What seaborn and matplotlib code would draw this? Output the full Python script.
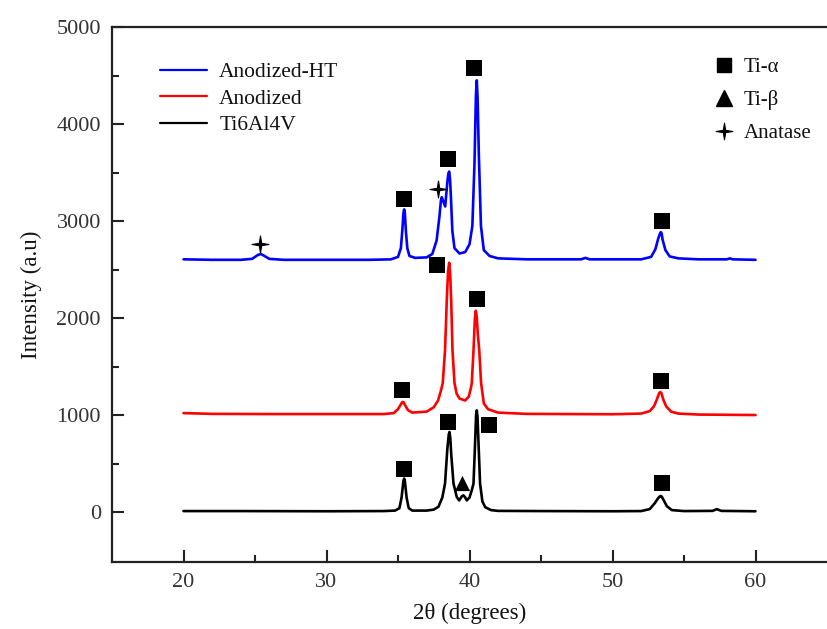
import matplotlib
matplotlib.use("Agg")
import matplotlib.pyplot as plt
from matplotlib.lines import Line2D
from matplotlib.path import Path
import seaborn as sns
import pandas as pd

# --- XRD traces: 2theta (degrees) and intensity (a.u.) ---
ht_2theta = [20.0, 22.0, 24.0, 24.8, 25.2, 25.4, 25.6, 26.0, 27.0, 30.0, 33.0, 34.5,
             35.0, 35.2, 35.3, 35.38, 35.43, 35.48, 35.55, 35.65, 35.8, 36.2, 37.0,
             37.4, 37.7, 37.9, 38.0, 38.06, 38.12, 38.3, 38.45, 38.52, 38.58, 38.64,
             38.7, 38.8, 38.95, 39.3, 39.7, 40.0, 40.2, 40.35, 40.45, 40.51, 40.57,
             40.65, 40.8, 41.0, 41.4, 42.0, 44.0, 47.8, 48.1, 48.4, 52.0, 52.7, 53.0,
             53.2, 53.32, 53.38, 53.44, 53.5, 53.7, 54.0, 54.6, 56.0, 58.0, 58.2,
             58.4, 60.0]
ht_counts = [2605, 2600, 2600, 2610, 2650, 2660, 2645, 2610, 2600, 2600, 2600, 2605,
             2630, 2720, 2900, 3080, 3120, 3080, 2900, 2720, 2640, 2620, 2625,
             2660, 2800, 3050, 3210, 3245, 3220, 3150, 3400, 3490, 3510, 3430,
             3250, 2900, 2720, 2665, 2680, 2760, 2950, 3600, 4300, 4450, 4250,
             3700, 2950, 2700, 2640, 2615, 2605, 2605, 2620, 2605, 2605, 2630, 2710,
             2820, 2870, 2885, 2870, 2810, 2700, 2635, 2615, 2605, 2605, 2615,
             2605, 2600]

anod_2theta = [20.0, 22.0, 26.0, 30.0, 34.0, 34.7, 35.0, 35.2, 35.28, 35.34, 35.4,
               35.5, 35.7, 36.0, 37.0, 37.5, 37.8, 38.0, 38.13, 38.29, 38.41, 38.5,
               38.58, 38.65, 38.72, 38.81, 38.95, 39.1, 39.3, 39.7, 39.95, 40.1,
               40.16, 40.28, 40.33, 40.38, 40.44, 40.5, 40.58, 40.68, 40.81, 41.0,
               41.3, 42.0, 44.0, 50.0, 52.0, 52.6, 52.9, 53.1, 53.26, 53.34, 53.42,
               53.55, 53.75, 54.1, 54.6, 56.0, 60.0]
anod_counts = [1020, 1012, 1010, 1010, 1010, 1020, 1060, 1110, 1130, 1135, 1130,
               1100, 1050, 1025, 1035, 1080, 1150, 1250, 1330, 1670, 2180, 2480,
               2570, 2450, 2180, 1670, 1330, 1220, 1170, 1150, 1190, 1280,
               1330, 1670, 1840, 2000, 2075, 2020, 1840, 1670, 1330, 1120,
               1060, 1025, 1012, 1008, 1015, 1040, 1090, 1160, 1225, 1237, 1225,
               1160, 1090, 1035, 1015, 1005, 1000]

alloy_2theta = [20.0, 24.0, 30.0, 34.0, 34.8, 35.1, 35.25, 35.38, 35.43, 35.48, 35.6,
                35.75, 36.0, 37.0, 37.5, 37.83, 38.1, 38.29, 38.45, 38.55, 38.6,
                38.66, 38.72, 38.88, 39.11, 39.28, 39.45, 39.58, 39.7, 39.81, 40.0,
                40.15, 40.28, 40.4, 40.46, 40.51, 40.56, 40.62, 40.74, 40.9, 41.1,
                41.5, 42.0, 45.0, 50.0, 52.0, 52.6, 52.95, 53.2, 53.3, 53.37, 53.44,
                53.55, 53.8, 54.15, 55.0, 57.0, 57.3, 57.6, 60.0]
alloy_counts = [10, 10, 8, 10, 15, 40, 150, 320, 345, 320, 150,
                40, 15, 15, 25, 55, 150, 295, 650, 800, 825,
                760, 600, 295, 155, 120, 160, 172, 150, 120, 150,
                220, 293, 750, 1000, 1048, 980, 750, 293, 110, 50,
                20, 12, 10, 8, 10, 30, 90, 145, 160, 165, 160,
                130, 60, 20, 10, 12, 30, 12, 8]

series_names = ["Anodized-HT", "Anodized", "Ti6Al4V"]
series_colors = ["#0000ff", "#ff0000", "#000000"]

# --- phase markers placed above the reflections ---
alpha_2theta = [35.45, 38.53, 40.33, 53.45, 35.31, 37.72, 40.51, 53.38, 35.43, 38.53, 41.33, 53.45]
alpha_counts = [3230, 3643, 4582, 3000, 1262, 2550, 2200, 1351, 447, 928, 894, 299]
beta_2theta = [39.51]
beta_counts = [299]
anatase_2theta = [25.36, 37.83]
anatase_counts = [2767, 3334]
phase_names = ["Ti-\u03b1", "Ti-\u03b2", "Anatase"]

x_ticks = [20, 30, 40, 50, 60]
y_ticks = [0, 1000, 2000, 3000, 4000, 5000]

# slim four-pointed star used for the anatase reflections
_r_in = 0.2
sparkle = Path([(0, 1), (_r_in * 0.707, _r_in * 0.707), (1, 0),
                (_r_in * 0.707, -_r_in * 0.707), (0, -1),
                (-_r_in * 0.707, -_r_in * 0.707), (-1, 0),
                (-_r_in * 0.707, _r_in * 0.707), (0, 1)],
               [Path.MOVETO] + [Path.LINETO] * 7 + [Path.CLOSEPOLY])

sns.set_theme(style="white")
plt.rcParams["font.family"] = ["Liberation Serif", "DejaVu Serif"]

fig = plt.figure(figsize=(8.27, 6.29), dpi=100)
ax = fig.add_axes([112 / 827, 67 / 629, 715 / 827, 535 / 629])

frames = []
for name, xs, ys in zip(series_names,
                        [ht_2theta, anod_2theta, alloy_2theta],
                        [ht_counts, anod_counts, alloy_counts]):
    frames.append(pd.DataFrame({"2theta": xs, "I": ys, "sample": name}))
df = pd.concat(frames, ignore_index=True)

sns.lineplot(data=df, x="2theta", y="I", hue="sample", hue_order=series_names,
             palette=series_colors, sort=False, estimator=None, linewidth=1.9,
             ax=ax, legend=False)

sns.scatterplot(x=alpha_2theta, y=alpha_counts, marker="s", s=125, color="black",
                edgecolor="black", linewidth=0, ax=ax, zorder=5)
sns.scatterplot(x=beta_2theta, y=beta_counts, marker="^", s=120, color="black",
                edgecolor="black", linewidth=0, ax=ax, zorder=5)
sns.scatterplot(x=anatase_2theta, y=anatase_counts, marker=sparkle, s=150, color="black",
                edgecolor="black", linewidth=0.8, ax=ax, zorder=5)

ax.set_xlim(15, 65)
ax.set_ylim(-515, 5000)
ax.set_xticks(x_ticks)
ax.set_yticks(y_ticks)
ax.set_xticks([25, 35, 45, 55], minor=True)
ax.set_yticks([500, 1500, 2500, 3500, 4500], minor=True)
ax.tick_params(which="both", direction="in", color="#222222", width=1.5,
               labelsize=16, labelcolor="#333333", pad=8,
               top=False, right=False, bottom=True, left=True)
ax.tick_params(which="major", length=8.5)
ax.tick_params(which="minor", length=5)

for side in ["left", "bottom", "top"]:
    ax.spines[side].set_color("#222222")
    ax.spines[side].set_linewidth(1.6)
ax.spines["right"].set_visible(False)

ax.set_xlabel("2\u03b8 (degrees)", fontsize=16.5, color="#111111", labelpad=8)
ax.set_ylabel("Intensity (a.u)", fontsize=16.5, color="#111111", labelpad=10)

# sample legend (upper left)
line_handles = [Line2D([], [], color=c, lw=1.6) for c in series_colors]
leg1 = ax.legend(line_handles, series_names, loc="upper left",
                 bbox_to_anchor=(0.055, 0.95), frameon=False, fontsize=15.5,
                 handlelength=2.2, handletextpad=0.55, labelspacing=0.3,
                 borderaxespad=0)
for t in leg1.get_texts():
    t.set_color("#111111")
ax.add_artist(leg1)

# phase legend (upper right)
phase_handles = [
    Line2D([], [], ls="", marker="s", ms=10.5, color="black"),
    Line2D([], [], ls="", marker="^", ms=11, color="black"),
    Line2D([], [], ls="", marker=sparkle, ms=12, color="black", mew=0.8),
]
leg2 = ax.legend(phase_handles, phase_names, loc="upper left",
                 bbox_to_anchor=(0.83, 0.958), frameon=False, fontsize=15,
                 handlelength=1.0, handletextpad=0.45, labelspacing=0.62,
                 borderaxespad=0)
for t in leg2.get_texts():
    t.set_color("#111111")

fig.savefig("out.png", dpi=100)
